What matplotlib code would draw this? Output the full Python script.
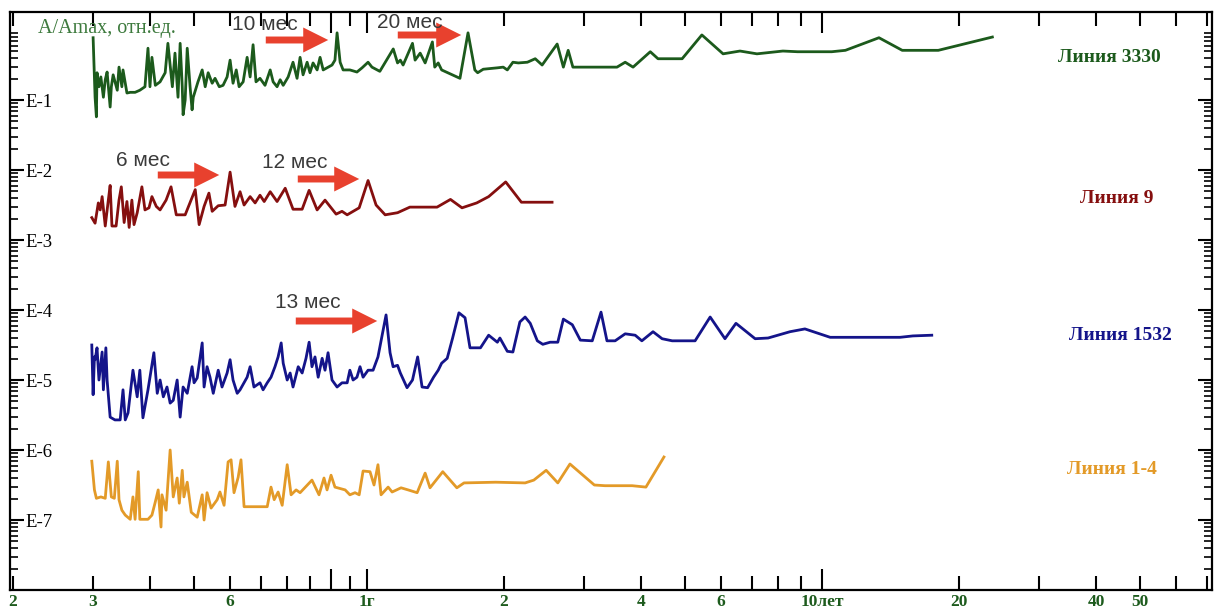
import matplotlib.pyplot as plt
from matplotlib import ticker
import numpy as np

# periods in months, amplitudes as lg(A/Amax)
months_3330 = [3.00, 3.03, 3.05, 3.06, 3.09, 3.12, 3.16, 3.19, 3.22, 3.27,
               3.29, 3.32, 3.39, 3.42, 3.47, 3.49, 3.56, 3.62, 3.71, 3.80,
               3.90, 3.96, 4.00, 4.04, 4.11, 4.21, 4.32, 4.38, 4.48, 4.54,
               4.61, 4.66, 4.71, 4.73, 4.78, 4.83, 4.90, 4.95, 4.98, 5.10,
               5.21, 5.29, 5.37, 5.48, 5.56, 5.68, 5.79, 5.91, 6.00, 6.09,
               6.19, 6.28, 6.41, 6.54, 6.64, 6.74, 6.84, 6.98, 7.16, 7.35,
               7.46, 7.61, 7.73, 7.85, 8.05, 8.25, 8.42, 8.55, 8.68, 8.86,
               8.99, 9.13, 9.32, 9.46, 9.61, 9.80, 10.05, 10.20, 10.31, 10.47,
               10.63, 11.0, 11.4, 11.7, 12.06, 12.3, 12.8, 13.7, 14.0, 14.2,
               14.4, 15.1, 15.3, 15.7, 16.1, 16.7, 16.9, 17.2, 17.5, 19.2,
               20.0, 20.7, 21.0, 21.6, 23.2, 23.9, 24.4, 25.1, 25.8, 27.0,
               28.1, 29.1, 31.4, 32.4, 33.2, 34.0, 42.5, 44.3, 46.1, 50.3,
               52.3, 59.1, 65.3, 72.7, 79.2, 86.3, 98.4, 106, 126, 135,
               160, 180, 216, 284]
lg_3330 = [-0.11, -0.96, -1.24, -0.61, -0.81, -0.67, -0.96, -0.71, -0.60, -1.10,
           -0.81, -0.64, -0.86, -0.53, -0.81, -0.57, -0.90, -0.89, -0.89, -0.86,
           -0.81, -0.26, -0.81, -0.39, -0.79, -0.74, -0.61, -0.19, -0.81, -0.33,
           -0.96, -0.19, -0.81, -1.21, -1.00, -0.26, -0.81, -1.14, -0.96, -0.74,
           -0.57, -0.81, -0.61, -0.76, -0.69, -0.81, -0.79, -0.67, -0.43, -0.76,
           -0.57, -0.81, -0.74, -0.39, -0.67, -0.21, -0.74, -0.69, -0.79, -0.57,
           -0.74, -0.81, -0.71, -0.79, -0.67, -0.46, -0.69, -0.39, -0.64, -0.46,
           -0.61, -0.47, -0.57, -0.39, -0.57, -0.54, -0.50, -0.43, -0.04, -0.46,
           -0.57, -0.57, -0.60, -0.54, -0.46, -0.53, -0.59, -0.27, -0.47, -0.43,
           -0.50, -0.19, -0.43, -0.33, -0.47, -0.17, -0.53, -0.47, -0.57, -0.69,
           -0.04, -0.57, -0.61, -0.56, -0.54, -0.53, -0.57, -0.46, -0.47, -0.46,
           -0.41, -0.50, -0.20, -0.53, -0.29, -0.53, -0.53, -0.46, -0.53, -0.31,
           -0.41, -0.41, -0.07, -0.34, -0.30, -0.34, -0.30, -0.31, -0.31, -0.29,
           -0.11, -0.29, -0.29, -0.10]

months_9 = [2.98, 3.03, 3.08, 3.11, 3.14, 3.19, 3.24, 3.27, 3.30, 3.37,
            3.42, 3.46, 3.51, 3.56, 3.60, 3.65, 3.69, 3.75, 3.84, 3.90,
            3.98, 4.04, 4.13, 4.21, 4.34, 4.45, 4.57, 4.78, 5.03, 5.13,
            5.26, 5.39, 5.48, 5.65, 5.85, 6.00, 6.15, 6.31, 6.44, 6.64,
            6.81, 6.98, 7.13, 7.35, 7.61, 7.93, 8.25, 8.64, 8.95, 9.32,
            9.70, 10.26, 10.57, 10.85, 11.53, 12.06, 12.56, 13.15, 14.0, 14.9,
            17.1, 18.3, 19.4, 20.9, 22.2, 24.2, 26.2, 30.6]
lg_9 = [-2.68, -2.76, -2.47, -2.57, -2.38, -2.80, -2.43, -2.22, -2.80, -2.80,
        -2.43, -2.24, -2.75, -2.45, -2.82, -2.43, -2.78, -2.61, -2.24, -2.57,
        -2.54, -2.38, -2.52, -2.57, -2.43, -2.24, -2.64, -2.64, -2.28, -2.78,
        -2.52, -2.33, -2.59, -2.51, -2.50, -2.03, -2.52, -2.31, -2.50, -2.38,
        -2.47, -2.36, -2.45, -2.31, -2.45, -2.26, -2.56, -2.56, -2.29, -2.57,
        -2.43, -2.63, -2.59, -2.64, -2.54, -2.15, -2.50, -2.64, -2.61, -2.53,
        -2.53, -2.42, -2.54, -2.47, -2.38, -2.17, -2.46, -2.46]

months_1532 = [2.98, 3.00, 3.02, 3.03, 3.06, 3.09, 3.14, 3.16, 3.20, 3.22,
               3.27, 3.35, 3.44, 3.49, 3.53, 3.58, 3.67, 3.75, 3.80, 3.86,
               3.96, 4.08, 4.15, 4.21, 4.28, 4.36, 4.43, 4.50, 4.59, 4.66,
               4.73, 4.83, 4.95, 5.00, 5.08, 5.21, 5.26, 5.34, 5.42, 5.51,
               5.65, 5.76, 5.91, 6.00, 6.09, 6.22, 6.31, 6.54, 6.64, 6.77,
               6.98, 7.09, 7.24, 7.38, 7.53, 7.65, 7.77, 7.85, 8.01, 8.13,
               8.25, 8.47, 8.64, 8.81, 8.95, 9.08, 9.22, 9.37, 9.56, 9.70,
               9.85, 10.05, 10.31, 10.57, 10.85, 11.0, 11.18, 11.4, 11.58, 11.76,
               12.06, 12.37, 12.68, 13.21, 13.48, 13.69, 14.0, 14.2, 14.69, 15.1,
               15.5, 15.85, 16.3, 16.8, 17.2, 17.5, 18.0, 18.5, 19.1, 19.7,
               20.2, 21.3, 22.2, 23.2, 23.5, 24.4, 25.1, 26.0, 26.7, 27.4,
               28.4, 29.2, 30.3, 31.5, 32.4, 33.9, 35.3, 37.5, 39.2, 40.4,
               42.1, 44.3, 46.6, 48.2, 51.0, 53.4, 56.2, 63.1, 68.1, 73.4,
               77.6, 85.5, 91.3, 102, 110, 125, 178, 190, 209]
lg_1532 = [-4.50, -5.21, -4.67, -4.71, -4.54, -5.00, -4.60, -5.14, -4.54, -5.00,
           -5.53, -5.57, -5.57, -5.14, -5.57, -5.47, -4.86, -5.24, -4.86, -5.54,
           -5.14, -4.61, -5.19, -5.00, -5.24, -5.10, -5.33, -5.29, -5.00, -5.53,
           -5.10, -5.19, -4.81, -5.04, -4.97, -4.47, -5.10, -4.81, -4.96, -5.19,
           -4.86, -5.10, -4.90, -4.71, -5.00, -5.19, -5.14, -4.96, -4.81, -5.10,
           -5.04, -5.14, -5.04, -4.96, -4.81, -4.67, -4.47, -4.76, -5.00, -4.90,
           -5.10, -4.81, -4.90, -4.69, -4.46, -4.81, -4.67, -4.96, -4.69, -4.86,
           -4.61, -5.00, -5.10, -5.04, -5.04, -4.86, -5.00, -4.96, -4.81, -4.96,
           -4.86, -4.86, -4.67, -4.07, -4.61, -4.81, -4.79, -4.90, -5.11, -5.00,
           -4.67, -5.10, -5.11, -4.96, -4.86, -4.76, -4.69, -4.40, -4.04, -4.11,
           -4.54, -4.54, -4.36, -4.46, -4.40, -4.59, -4.60, -4.17, -4.10, -4.19,
           -4.44, -4.49, -4.46, -4.46, -4.13, -4.21, -4.43, -4.44, -4.03, -4.44,
           -4.44, -4.34, -4.36, -4.44, -4.31, -4.41, -4.44, -4.44, -4.10, -4.41,
           -4.19, -4.41, -4.40, -4.31, -4.27, -4.39, -4.39, -4.37, -4.36]

months_14 = [2.98, 3.02, 3.05, 3.12, 3.19, 3.24, 3.29, 3.34, 3.39, 3.42,
             3.47, 3.53, 3.62, 3.67, 3.71, 3.77, 3.80, 3.96, 4.04, 4.11,
             4.17, 4.23, 4.25, 4.34, 4.43, 4.50, 4.59, 4.64, 4.71, 4.75,
             4.83, 4.93, 5.08, 5.21, 5.26, 5.34, 5.45, 5.62, 5.70, 5.82,
             5.94, 6.03, 6.12, 6.25, 6.34, 6.44, 6.67, 7.24, 7.38, 7.50,
             7.65, 7.81, 8.01, 8.17, 8.38, 8.55, 9.08, 9.41, 9.65, 9.80,
             10.0, 10.20, 10.74, 11.0, 11.29, 11.53, 11.76, 12.18, 12.43, 12.68,
             12.88, 13.35, 13.62, 14.25, 14.77, 15.46, 16.1, 16.5, 17.6, 18.9,
             19.6, 23.0, 26.7, 27.9, 29.7, 31.5, 33.5, 37.9, 40.0, 45.9,
             49.2, 53.9]
lg_14 = [-6.16, -6.57, -6.69, -6.67, -6.69, -6.17, -6.67, -6.69, -6.16, -6.71,
         -6.86, -6.93, -6.99, -6.67, -6.99, -6.31, -6.99, -6.99, -6.93, -6.74,
         -6.57, -7.10, -6.64, -6.86, -6.00, -6.67, -6.40, -6.76, -6.29, -6.67,
         -6.46, -6.89, -6.96, -6.64, -7.00, -6.61, -6.83, -6.71, -6.60, -6.79,
         -6.17, -6.14, -6.61, -6.39, -6.14, -6.81, -6.81, -6.81, -6.53, -6.71,
         -6.60, -6.79, -6.21, -6.64, -6.57, -6.61, -6.43, -6.64, -6.40, -6.57,
         -6.36, -6.53, -6.57, -6.64, -6.61, -6.64, -6.30, -6.31, -6.50, -6.21,
         -6.64, -6.53, -6.60, -6.54, -6.57, -6.61, -6.33, -6.54, -6.31, -6.54,
         -6.47, -6.46, -6.47, -6.43, -6.29, -6.47, -6.20, -6.50, -6.51, -6.51,
         -6.53, -6.10]

series = [
    (months_3330, lg_3330, "#1c5a1c", "Линия 3330", (1109, 58)),
    (months_9, lg_9, "#850f0f", "Линия 9", (1117, 198)),
    (months_1532, lg_1532, "#14148a", "Линия 1532", (1120, 335)),
    (months_14, lg_14, "#e39a28", "Линия 1-4", (1112, 469)),
]

# x axis (months): long ticks and short ticks with their labels
long_ticks = [10, 12, 120]
long_labels = ["", "1г", "10лет"]
short_ticks = [2, 3, 4, 5, 6, 7, 8, 9, 11, 24, 36, 48, 60, 72, 84, 96, 108,
               240, 360, 480, 600, 720, 840]
short_labels = ["2", "3", "", "", "6", "", "", "", "", "2", "", "4", "", "6",
                "", "", "", "20", "", "40", "50", "", ""]
y_labels = ["E-1", "E-2", "E-3", "E-4", "E-5", "E-6", "E-7"]

# annotations: text, text position (px), arrow start and end (px)
notes = [
    ("10 мес", (232, 24), (263, 40), (331, 40)),
    ("20 мес", (377, 22), (395, 35), (464, 35)),
    ("6 мес", (116, 160), (155, 175), (222, 175)),
    ("12 мес", (262, 163), (295, 179), (362, 179)),
    ("13 мес", (275, 302), (293, 321), (380, 321)),
]

W, H = 1214, 609


def fp(x, y):
    return (x / W, 1 - y / H)


fig = plt.figure(figsize=(W / 100, H / 100), dpi=100)
ax = fig.add_axes([10 / W, 1 - 590 / H, 1202 / W, 578 / H])

for m, lg, col, name, pos in series:
    ax.plot(m, 10 ** np.array(lg), color=col, lw=2.0)
    fig.text(*fp(*pos), name, color=col, fontsize=14, fontweight="bold",
             family="Liberation Serif", ha="center", va="center")

ax.set_xscale("log")
ax.set_yscale("log")
ax.set_xlim(1.97, 863)
ax.set_ylim(1e-8, 1.81)

ax.xaxis.remove_overlapping_locs = False
ax.set_xticks(long_ticks, long_labels)
ax.set_xticks(short_ticks, short_labels, minor=True)
ax.tick_params(axis="x", which="major", direction="in", length=15, width=1.5,
               top=True, pad=3)
ax.tick_params(axis="x", which="minor", direction="in", length=10, width=1.5,
               top=True, pad=3)
for lbl in ax.get_xticklabels(which="both"):
    lbl.set_family("Liberation Serif")
    lbl.set_fontweight("bold")
    lbl.set_fontsize(12.5)
    lbl.set_color("#1d5b1d")

ax.set_yticks([10.0 ** -k for k in range(1, 8)], y_labels)
ax.yaxis.set_minor_locator(ticker.LogLocator(base=10, subs=np.arange(2, 10), numticks=20))
ax.yaxis.set_minor_formatter(ticker.NullFormatter())
ax.tick_params(axis="y", which="major", direction="in", length=10, width=1.5,
               right=True, pad=-11)
ax.tick_params(axis="y", which="minor", direction="in", length=6, width=1.2,
               right=True)
for lbl in ax.get_yticklabels():
    lbl.set_ha("left")
    lbl.set_family("Liberation Serif")
    lbl.set_fontsize(13.5)

for s in ax.spines.values():
    s.set_linewidth(1.6)

fig.text(*fp(38, 28), "A/Amax, отн.ед.", color="#3d7a3d", fontsize=14.5,
         family="Liberation Serif", va="center")

for txt, tpos, a0, a1 in notes:
    fig.text(*fp(*tpos), txt, color="#3a3a3a", fontsize=15,
             family="Liberation Sans", va="center")
    ax.annotate("", xy=fp(*a1), xycoords="figure fraction",
                xytext=fp(*a0), textcoords="figure fraction",
                arrowprops=dict(arrowstyle="simple,head_length=0.9,head_width=0.9,tail_width=0.25",
                                color="#e8412e", lw=0, mutation_scale=20))

fig.savefig("out.png", dpi=100)
